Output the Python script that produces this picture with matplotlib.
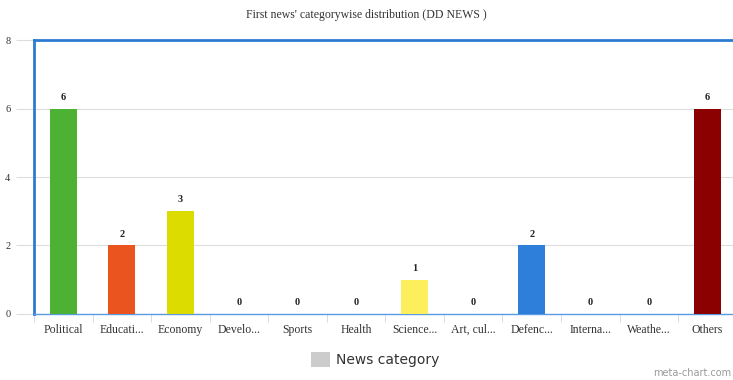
import matplotlib.pyplot as plt
import numpy as np

categories = ["Political", "Educati...", "Economy", "Develo...", "Sports", "Health",
              "Science...", "Art, cul...", "Defenc...", "Interna...", "Weathe...", "Others"]
counts = [6, 2, 3, 0, 0, 0, 1, 0, 2, 0, 0, 6]
colors = ["#4db233", "#ea541f", "#dcdc00", "#cccccc", "#cccccc", "#cccccc",
          "#fdef5c", "#cccccc", "#2e7fd9", "#cccccc", "#cccccc", "#8b0000"]
y_ticks = [0, 2, 4, 6, 8]

serif = ["Liberation Serif", "DejaVu Serif"]

fig = plt.figure(figsize=(7.33, 3.80), dpi=100)
ax = fig.add_axes([0.0464, 0.1737, 0.9586, 0.7210])

x = np.arange(len(categories))
ax.bar(x, counts, width=0.46, color=colors, zorder=3)
for xi, v in zip(x, counts):
    ax.text(xi, v + 0.2, str(v), ha="center", va="bottom", fontsize=7.5,
            fontweight="bold", family=serif, color="#222222", zorder=4)

ax.set_xlim(-0.5, len(categories) - 0.5)
ax.set_ylim(0, 8)
ax.set_yticks(y_ticks)
ax.set_yticklabels([str(t) for t in y_ticks], family=serif, fontsize=7.5, color="#333333")
ax.yaxis.grid(True, color="#dddddd", linewidth=0.8, zorder=0)
ax.tick_params(axis="y", length=13, color="#dddddd", pad=4)

# category ticks between slots
ax.set_xticks(x)
ax.set_xticklabels(categories, family=serif, fontsize=8.5, color="#333333")
ax.tick_params(axis="x", length=0, pad=7)
ax.set_xticks(np.arange(len(categories) + 1) - 0.5, minor=True)
ax.tick_params(axis="x", which="minor", length=6, color="#ccd6eb")

for side in ["left", "top", "right"]:
    ax.spines[side].set_color("#2b7bd3")
    ax.spines[side].set_linewidth(2)
ax.spines["bottom"].set_color("#5a9ae0")
ax.spines["bottom"].set_linewidth(1)

fig.text(0.5, 0.96, "First news' categorywise distribution (DD NEWS )",
         ha="center", va="center", family=serif, fontsize=8.5, color="#333333")

# legend
fig.patches.append(plt.Rectangle((0.424, 0.033), 0.026, 0.04, transform=fig.transFigure,
                                 facecolor="#cccccc", edgecolor="none"))
fig.text(0.458, 0.053, "News category", ha="left", va="center", fontsize=10,
         family="DejaVu Sans", color="#333333")
fig.text(0.998, 0.004, "meta-chart.com", ha="right", va="bottom", fontsize=7,
         color="#999999")

fig.savefig("out.png", dpi=100)
